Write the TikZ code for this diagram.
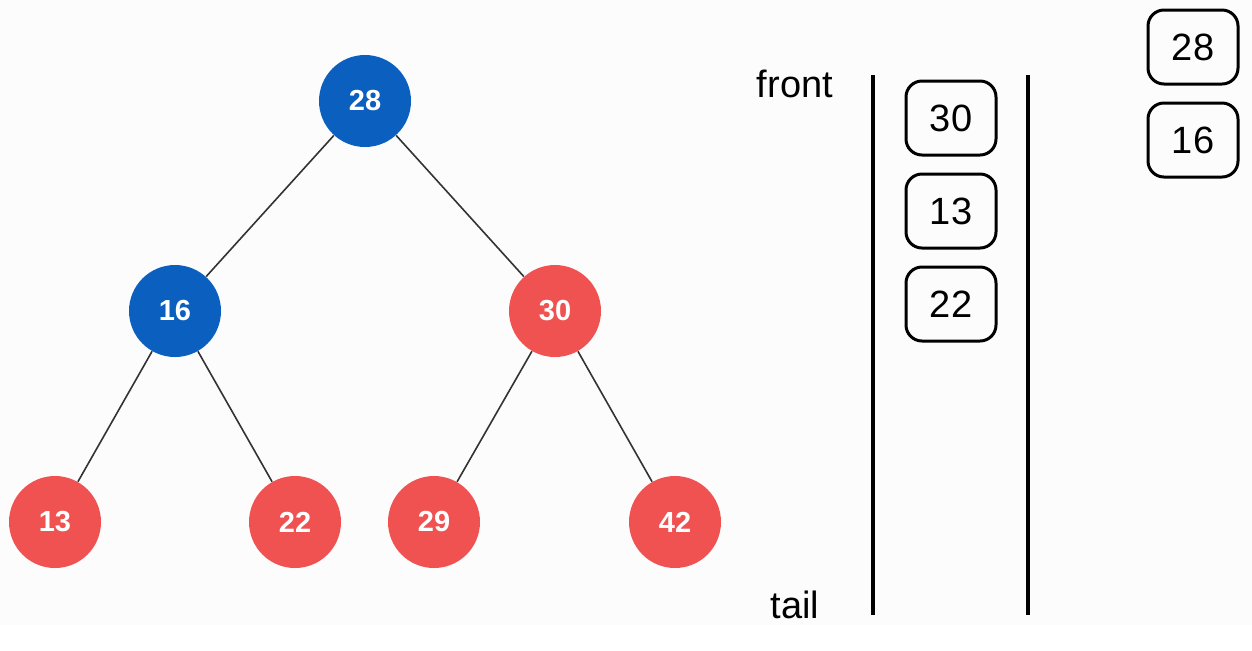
\documentclass[tikz,border=0pt]{standalone}
\usepackage{fontspec}
\setmainfont{Liberation Sans}
\definecolor{treeblue}{HTML}{0A5FBF}
\definecolor{treered}{HTML}{F05252}
\definecolor{paper}{HTML}{FCFCFC}
\tikzset{
    vertex/.style={circle, minimum size=46pt, inner sep=0pt, text=white, font=\fontsize{14.5}{14.5}\selectfont\bfseries},
    slot/.style={draw, line width=1.5pt, rounded corners=8pt, minimum width=45pt, minimum height=37pt, font=\fontsize{19}{19}\selectfont},
    branch/.style={draw=black!80, line width=0.8pt},
}
\begin{document}
\begin{tikzpicture}[x=0.5pt, y=-0.5pt]
                    \fill[paper] (0,0) rectangle (1252,625);
                    \useasboundingbox (0,0) rectangle (1252,650);
                    % tree
                    \foreach \name/\px/\py/\shade in {28/365/101/treeblue,16/175/311/treeblue,30/555/311/treered,
                        13/55/522/treered,22/295/522/treered,29/434/522/treered,42/675/522/treered} {
                        \node[vertex, fill=\shade] (v-\name) at (\px,\py) {\name};
                    }
                    \foreach \from/\to in {28/16,28/30,16/13,16/22,30/29,30/42} {
                        \draw[branch] (v-\from) -- (v-\to);
                    }
                    % queue
                    \node[font=\fontsize{19}{19}\selectfont] (front) at (795,84) {front};
                    \node[font=\fontsize{19}{19}\selectfont] (tail) at (795,605) {tail};
                    \coordinate (wall-top-l) at (873,75);
                    \coordinate (wall-bot-l) at (873,615);
                    \coordinate (wall-top-r) at (1028,75);
                    \coordinate (wall-bot-r) at (1028,615);
                    \draw[line width=2pt] (wall-top-l) -- (wall-bot-l);
                    \draw[line width=2pt] (wall-top-r) -- (wall-bot-r);
                    \foreach \val/\py in {30/118,13/211,22/304} {
                        \node[slot] (q-\val) at (951,\py) {\val};
                    }
                    % output
                    \foreach \val/\py in {28/47,16/140} {
                        \node[slot] (out-\val) at (1193,\py) {\val};
                    }
                \end{tikzpicture}
\end{document}
